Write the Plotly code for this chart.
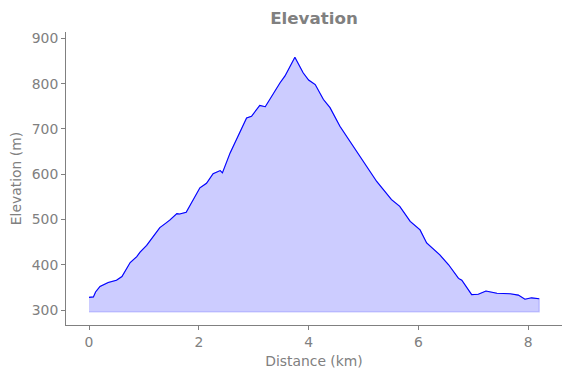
import plotly.graph_objects as go

distance_km = [0, 0.08, 0.12, 0.2, 0.35, 0.5, 0.6, 0.68, 0.75, 0.87, 0.93, 1.05, 1.17, 1.29,
               1.4, 1.475, 1.6, 1.65, 1.77, 1.9, 2.02, 2.14, 2.26, 2.39, 2.43, 2.57, 2.75,
               2.87, 2.96, 3.05, 3.11, 3.21, 3.3, 3.48, 3.57, 3.65, 3.75, 3.9, 4.0, 4.12,
               4.27, 4.39, 4.57, 4.7, 4.81, 5.0, 5.24, 5.51, 5.66, 5.85, 6.03, 6.15, 6.39,
               6.55, 6.73, 6.79, 6.97, 7.09, 7.23, 7.43, 7.67, 7.82, 7.94, 8.06, 8.2]
elevation_m = [328, 329, 340, 352, 361, 366, 374, 392, 405, 418, 428, 443, 462, 482,
               492, 499, 513, 512, 516, 543, 570, 580, 601, 608, 603, 647, 692,
               724, 728, 742, 752, 749, 767, 802, 817, 835, 858, 824, 808, 798,
               765, 747, 706, 682, 662, 625, 584, 544, 529, 496, 477, 448, 422,
               400, 370, 366, 334, 335, 342, 337, 336, 333, 324, 327, 325]
fill_base = 296
x_ticks = [0, 2, 4, 6, 8]
y_ticks = [300, 400, 500, 600, 700, 800, 900]

grey = "#808080"
font = "DejaVu Sans"

# the page body has an 8px margin, so the figure is sized to fit the window
W, H = 563, 370

fig = go.Figure()
fig.add_trace(go.Scatter(
    x=distance_km + [distance_km[-1], distance_km[0]],
    y=elevation_m + [fill_base, fill_base],
    mode="lines", fill="toself",
    fillcolor="rgba(0,0,255,0.2)",
    line=dict(color="rgba(0,0,255,0.2)", width=1.2),
    hoverinfo="skip", showlegend=False))
fig.add_trace(go.Scatter(
    x=distance_km, y=elevation_m, mode="lines",
    line=dict(color="blue", width=1.1), showlegend=False))

fig.update_layout(
    width=W, height=H,
    margin=dict(l=58, r=9, t=24, b=53, autoexpand=False),
    paper_bgcolor="white", plot_bgcolor="white",
    font=dict(family=font, size=13.9, color=grey),
    title=dict(text="<b>Elevation</b>", x=0.5, xref="paper", y=1 - 10 / H,
               yref="container", yanchor="middle", xanchor="center",
               font=dict(family=font, size=16.7, color=grey)),
)
fig.update_xaxes(
    range=[-0.419, 8.615], tickvals=x_ticks, ticks="outside", ticklen=4,
    tickcolor=grey, showline=True, linecolor=grey, linewidth=1, showgrid=False,
    zeroline=False, automargin=False, tickfont=dict(size=13.9, color=grey),
    title=dict(text="Distance (km)", standoff=7, font=dict(size=13.9, color=grey)))
fig.update_yaxes(
    range=[267, 914], tickvals=y_ticks, ticks="outside", ticklen=4,
    tickcolor=grey, showline=True, linecolor=grey, linewidth=1, showgrid=False,
    zeroline=False, automargin=False, tickfont=dict(size=13.9, color=grey),
    title=dict(text="Elevation (m)", standoff=8, font=dict(size=13.9, color=grey)))

fig.write_html("out.html")
